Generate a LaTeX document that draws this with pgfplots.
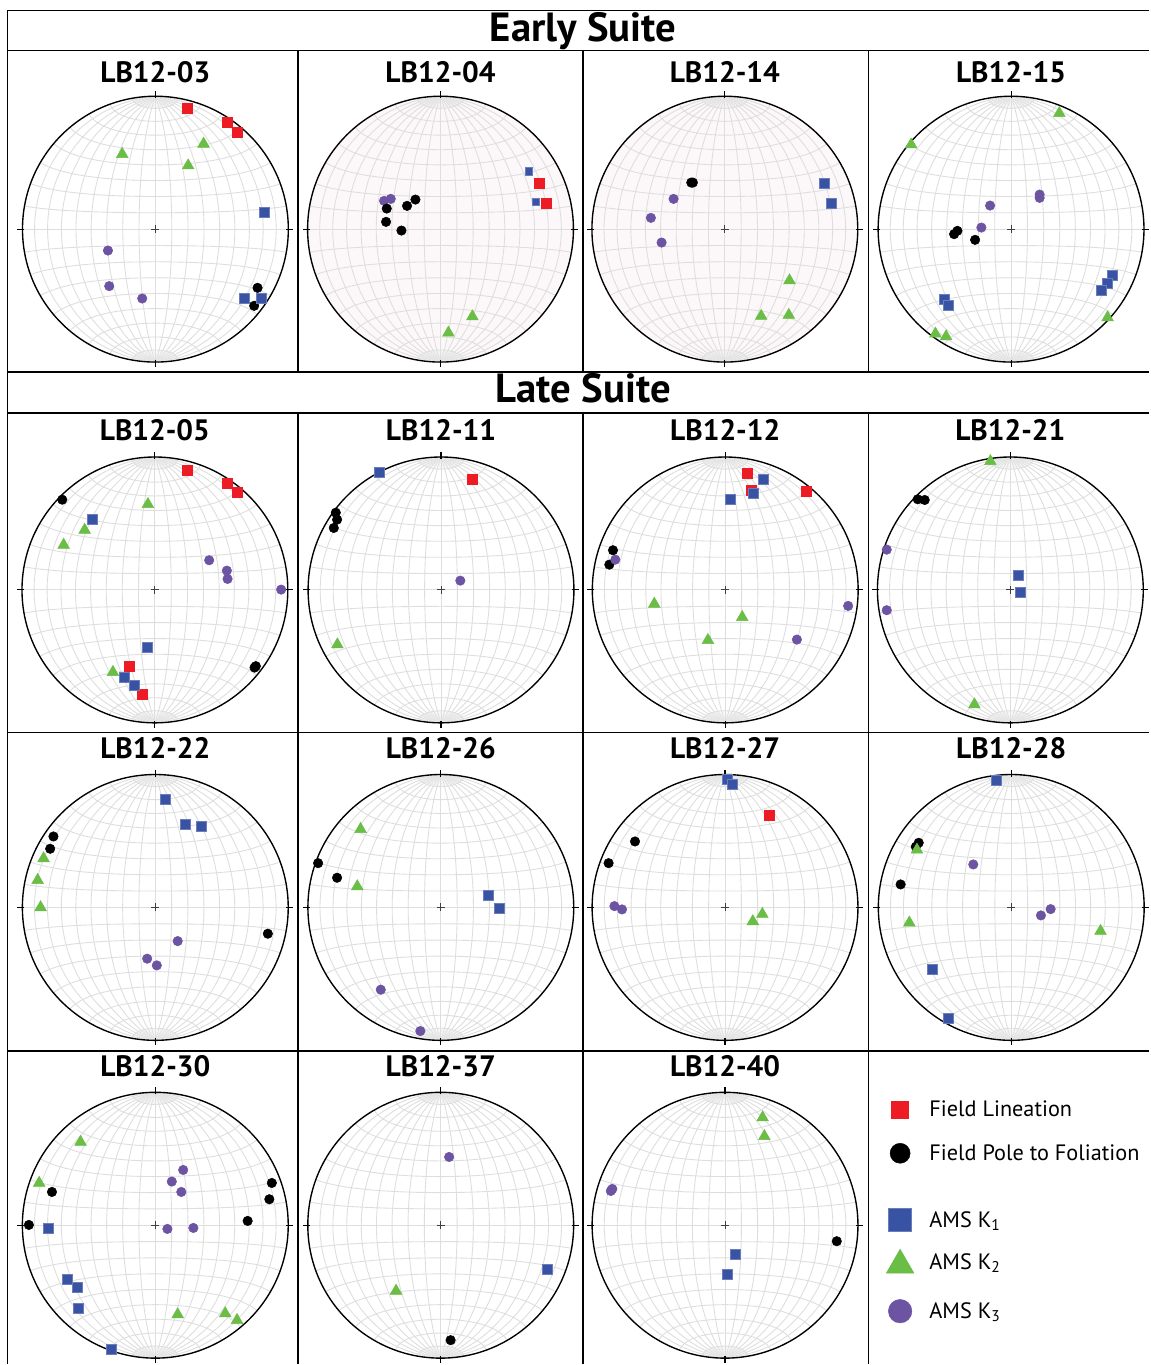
\documentclass[border=0pt]{standalone}
\usepackage{fontspec}
\setmainfont{PT Sans}
\usepackage{pgfplots}
\pgfplotsset{compat=1.18}
\definecolor{cRed}{RGB}{237,28,36}
\definecolor{cBlue}{RGB}{57,83,164}
\definecolor{cGreen}{RGB}{106,189,69}
\definecolor{cPurple}{RGB}{109,84,163}
\definecolor{netgray}{RGB}{222,222,222}
\definecolor{pinkfill}{RGB}{252,248,249}
\newsavebox\netbox
\pgfplotsset{
  stereo/.style={anchor=center, x=0.4pt, y=0.4pt, xmin=-140, xmax=140, ymin=-140, ymax=140, hide axis, clip=false},
  pol/.style={only marks, mark=*, mark size=1.9pt, mark options={draw=black, fill=black, line width=0.2pt}},
  lin/.style={only marks, mark=square*, mark size=2pt, mark options={draw=cRed, fill=cRed, line width=0.2pt}},
  kone/.style={only marks, mark=square*, mark size=2pt, mark options={draw=cBlue!75!white, fill=cBlue, line width=0.25pt}},
  ktwo/.style={only marks, mark=triangle*, mark size=2.7pt, mark options={draw=cGreen, fill=cGreen, line width=0.2pt}},
  kthree/.style={only marks, mark=*, mark size=1.9pt, mark options={draw=cPurple, fill=cPurple, line width=0.2pt}},
}
\newcommand{\net}[3][white]{%
  \fill[#1] (#2,#3) circle[radius=133];
  \node[inner sep=0pt,outer sep=0pt,anchor=center] at (#2,#3) {\usebox\netbox};
  \draw[line width=0.55pt] (#2,#3) circle[radius=133];
  \draw[line width=0.45pt] (#2,#3-131)--(#2,#3-138) (#2,#3+131)--(#2,#3+138) (#2-131,#3)--(#2-138,#3) (#2+131,#3)--(#2+138,#3);
}
\newcommand{\cross}[2]{\draw[line width=0.35pt, black!75] (#1-4,#2)--(#1+4,#2) (#1,#2-4)--(#1,#2+4);}
\newcommand{\ptitle}[3]{\node[anchor=base, inner sep=0pt, font=\fontsize{11.8}{12}\selectfont\bfseries] at (#1,#2) {#3};}
\begin{document}
\sbox\netbox{%
\begin{tikzpicture}[x=53.2pt,y=53.2pt]
\useasboundingbox (-1,-1) rectangle (1,1);
\begin{scope}[draw=netgray, line width=0.35pt]
\foreach \d in {10,20,...,80}{
  \draw plot[domain=0:180, samples=37, smooth] ({sin(\x)*cos(\d)/sqrt(1+sin(\x)*sin(\d))},{cos(\x)/sqrt(1+sin(\x)*sin(\d))});
  \draw plot[domain=0:180, samples=37, smooth] ({-sin(\x)*cos(\d)/sqrt(1+sin(\x)*sin(\d))},{cos(\x)/sqrt(1+sin(\x)*sin(\d))});
  \draw plot[domain=0:180, samples=37, smooth] ({sin(\d)*cos(\x)/sqrt(1+sin(\d)*sin(\x))},{cos(\d)/sqrt(1+sin(\d)*sin(\x))});
  \draw plot[domain=0:180, samples=37, smooth] ({sin(\d)*cos(\x)/sqrt(1+sin(\d)*sin(\x))},{-cos(\d)/sqrt(1+sin(\d)*sin(\x))});
}
\begin{scope}[line width=0.12pt, draw=netgray!70]
\foreach \d in {4,8,14,18,24,28,34,38,44,48,54,58,64,68,74,78,84,88}{
  \draw plot[domain=1.5:10, samples=3] ({sin(\x)*cos(\d)/sqrt(1+sin(\x)*sin(\d))},{cos(\x)/sqrt(1+sin(\x)*sin(\d))});
  \draw plot[domain=1.5:10, samples=3] ({-sin(\x)*cos(\d)/sqrt(1+sin(\x)*sin(\d))},{cos(\x)/sqrt(1+sin(\x)*sin(\d))});
  \draw plot[domain=170:178.5, samples=3] ({sin(\x)*cos(\d)/sqrt(1+sin(\x)*sin(\d))},{cos(\x)/sqrt(1+sin(\x)*sin(\d))});
  \draw plot[domain=170:178.5, samples=3] ({-sin(\x)*cos(\d)/sqrt(1+sin(\x)*sin(\d))},{cos(\x)/sqrt(1+sin(\x)*sin(\d))});
}
\end{scope}
\draw (0,-1)--(0,1) (-1,0)--(1,0);
\end{scope}
\end{tikzpicture}}%
\begin{tikzpicture}
\begin{scope}[x=0.4pt,y=-0.4pt]
\path (0,0) rectangle (1150,1365);
% frame lines
\begin{scope}[line width=0.7pt]
\draw (1150,10.5)--(7.5,10.5)--(7.5,1365);
\draw (7.5,50.5)--(1150,50.5);
\draw (7.5,372)--(1150,372);
\draw (7.5,413)--(1150,413);
\draw (7.5,733)--(1150,733);
\draw (7.5,1051.5)--(1150,1051.5);
\foreach \vx in {298.5,583,869}{
  \draw (\vx,50.5)--(\vx,372);
  \draw (\vx,413)--(\vx,1365);
}
\end{scope}
% section titles
\node[anchor=base, inner sep=0pt, font=\fontsize{16.3}{17}\selectfont\bfseries] at (583.5,42) {Early Suite};
\node[anchor=base, inner sep=0pt, font=\fontsize{16.3}{17}\selectfont\bfseries] at (583.5,403) {Late Suite};
% nets
\net{155.5}{229.3}\cross{155.5}{229.3}
\net[pinkfill]{440.8}{229.3}
\net[pinkfill]{725.3}{229.3}\cross{725.3}{229.3}
\net{1011.7}{229.3}\cross{1011.7}{229.3}
\net{155}{590.3}\cross{155}{590.3}
\net{441.3}{590.3}\cross{441.3}{590.3}
\net{725.7}{590.3}\cross{725.7}{590.3}
\net{1011}{590.3}\cross{1011}{590.3}
\net{155.4}{908}\cross{155.4}{908}
\net{441.1}{908}\cross{441.1}{908}
\net{725.5}{908}\cross{725.5}{908}
\net{1011.9}{908}\cross{1011.9}{908}
\net{155.4}{1226}\cross{155.4}{1226}
\net{441}{1226}\cross{441}{1226}
\net{725.5}{1226}\cross{725.5}{1226}
% panel titles
\ptitle{155.5}{83}{LB12-03}
\ptitle{440.8}{83}{LB12-04}
\ptitle{725.3}{83}{LB12-14}
\ptitle{1011.7}{83}{LB12-15}
\ptitle{155}{441}{LB12-05}
\ptitle{441.3}{441}{LB12-11}
\ptitle{725.7}{441}{LB12-12}
\ptitle{1011}{441}{LB12-21}
\ptitle{155.4}{759}{LB12-22}
\ptitle{441.1}{759}{LB12-26}
\ptitle{725.5}{759}{LB12-27}
\ptitle{1011.9}{759}{LB12-28}
\ptitle{155.4}{1077}{LB12-30}
\ptitle{441}{1077}{LB12-37}
\ptitle{725.5}{1077}{LB12-40}
% legend text
\begin{scope}[every node/.style={anchor=base west, inner sep=0pt, font=\fontsize{8.9}{10}\selectfont}]
\node at (929.5,1117.7) {Field Lineation};
\node at (929.5,1161.7) {Field Pole to Foliation};
\node at (929.5,1228.3) {AMS K\textsubscript{1}};
\node at (929.5,1270) {AMS K\textsubscript{2}};
\node at (929.5,1319.3) {AMS K\textsubscript{3}};
\end{scope}
% anchor coordinates
\coordinate (p1) at (155.5,229.3);
\coordinate (p2) at (440.8,229.3);
\coordinate (p3) at (725.3,229.3);
\coordinate (p4) at (1011.7,229.3);
\coordinate (p5) at (155,590.3);
\coordinate (p6) at (441.3,590.3);
\coordinate (p7) at (725.7,590.3);
\coordinate (p8) at (1011,590.3);
\coordinate (p9) at (155.4,908);
\coordinate (p10) at (441.1,908);
\coordinate (p11) at (725.5,908);
\coordinate (p12) at (1011.9,908);
\coordinate (p13) at (155.4,1226);
\coordinate (p14) at (441,1226);
\coordinate (p15) at (725.5,1226);
\coordinate (lg) at (900.7,1110.3);
\end{scope}
% LB12-03
\begin{axis}[stereo, at={(p1)}]
\addplot[pol] coordinates {(102.2,-58.7) (98.8,-76.7)};
\addplot[lin] coordinates {(32.2,120.6) (71.8,106.6) (81.5,97)};
\addplot[kone] coordinates {(108.8,17) (88.8,-69.4) (105.5,-69.4)};
\addplot[ktwo] coordinates {(-33.2,75) (48.2,85.3) (32.8,63.6)};
\addplot[kthree] coordinates {(-47.5,-21.4) (-46.2,-57) (-13.2,-69.4)};
\end{axis}
% LB12-04
\begin{axis}[stereo, at={(p2)}]
\addplot[kthree] coordinates {(-56.5,28.3) (-49.8,30.3)};
\addplot[pol] coordinates {(-25.1,29.6) (-33.5,23.3) (-53.8,20.6) (-54.5,7.3) (-39.1,-1.4)};
\addplot[lin] coordinates {(99.2,46.3) (105.9,26)};
\addplot[kone, mark size=1.45pt] coordinates {(88.5,58) (95.2,27.6)};
\addplot[ktwo] coordinates {(31.9,-87.4) (7.9,-103.7)};
\end{axis}
% LB12-14
\begin{axis}[stereo, at={(p3)}]
\addplot[pol] coordinates {(-33.6,46.6) (-32,46.6)};
\addplot[kone] coordinates {(99.4,45.6) (106.4,26)};
\addplot[ktwo] coordinates {(64.7,-51.4) (36.4,-87) (64,-86)};
\addplot[kthree] coordinates {(-51.3,30.3) (-74,11.3) (-63.3,-13.4)};
\end{axis}
% LB12-15
\begin{axis}[stereo, at={(p4)}]
\addplot[pol] coordinates {(-57,-5) (-53.7,-1.7) (-36,-10.7)};
\addplot[kone] coordinates {(101.3,-46.4) (96,-54) (90.3,-61.4) (-66.4,-70.4) (-63,-76)};
\addplot[ktwo] coordinates {(48.3,116) (-100,84.6) (-75.7,-104.7) (-65,-107.4) (96.6,-88.4)};
\addplot[kthree] coordinates {(28.6,34.6) (28.6,31.3) (-21,23.6) (-29.7,1.6)};
\end{axis}
% LB12-05
\begin{axis}[stereo, at={(p5)}]
\addplot[pol] coordinates {(-92.7,90.3) (99.7,-77.7) (101,-76.3)};
\addplot[lin] coordinates {(32.7,120) (72,106.3) (82,97.7) (-25.7,-76.3) (-12.3,-104)};
\addplot[kone] coordinates {(-63,70.3) (-7.7,-57.7) (-30.3,-87.7) (-20.3,-95.3)};
\addplot[ktwo] coordinates {(-7,85.7) (-70.3,60) (-91.3,45) (-42,-82.3)};
\addplot[kthree] coordinates {(54.3,29.7) (72,19.3) (72.7,11) (126.3,0.3)};
\end{axis}
% LB12-11
\begin{axis}[stereo, at={(p6)}]
\addplot[pol] coordinates {(-105.3,77.3) (-104,70.3) (-107.3,62)};
\addplot[lin] coordinates {(31,110.7)};
\addplot[kone] coordinates {(-61.7,117.7)};
\addplot[ktwo] coordinates {(-103.7,-54.7)};
\addplot[kthree] coordinates {(19.3,9.3)};
\end{axis}
% LB12-12
\begin{axis}[stereo, at={(p7)}]
\addplot[pol] coordinates {(-112.3,39.7) (-116,25.3)};
\addplot[lin] coordinates {(21.7,117) (26,100) (81,98.3)};
\addplot[kone] coordinates {(38,111) (27.7,96.7) (4.7,91)};
\addplot[ktwo] coordinates {(-71,-14) (17,-27.3) (-17.3,-50.3)};
\addplot[kthree] coordinates {(-110,30.3) (123,-16) (71.7,-49.7)};
\end{axis}
% LB12-21
\begin{axis}[stereo, at={(p8)}]
\addplot[pol] coordinates {(-92.7,90.7) (-85.7,90)};
\addplot[kone] coordinates {(8.3,15) (10.3,-2.7)};
\addplot[ktwo] coordinates {(-20,128.7) (-36,-114.7)};
\addplot[kthree] coordinates {(-123.7,40.3) (-123.7,-20.3)};
\end{axis}
% LB12-22
\begin{axis}[stereo, at={(p9)}]
\addplot[pol] coordinates {(-101.9,71) (-105.2,58.7) (112.6,-26.3)};
\addplot[kone] coordinates {(9.9,107.7) (30.1,82.7) (45.8,81.3)};
\addplot[ktwo] coordinates {(-111.8,49) (-117.7,27.3) (-114.8,0)};
\addplot[kthree] coordinates {(22.4,-33.7) (-8.1,-51.3) (1.5,-58)};
\end{axis}
% LB12-26
\begin{axis}[stereo, at={(p10)}]
\addplot[pol] coordinates {(-122.8,44.3) (-103.8,29.7)};
\addplot[kone] coordinates {(47.7,11.7) (58.7,-0.7)};
\addplot[ktwo] coordinates {(-80.3,78.3) (-83.6,21)};
\addplot[kthree] coordinates {(-60.1,-82.3) (-20.5,-123.7)};
\end{axis}
% LB12-27
\begin{axis}[stereo, at={(p11)}]
\addplot[pol] coordinates {(-90.1,66) (-116.5,44.3)};
\addplot[lin] coordinates {(44.5,92.3)};
\addplot[kone] coordinates {(2.5,128.3) (7.2,123)};
\addplot[ktwo] coordinates {(37.3,-6.7) (27.8,-14)};
\addplot[kthree] coordinates {(-110.7,1.3) (-103.1,-2)};
\end{axis}
% LB12-28
\begin{axis}[stereo, at={(p12)}]
\addplot[pol] coordinates {(-92.6,64.7) (-95.5,60.7) (-110.7,23)};
\addplot[kone] coordinates {(-14.8,127.3) (-79.2,-62) (-62.9,-110.7)};
\addplot[ktwo] coordinates {(-94.4,57.7) (-102,-15.3) (89.3,-23.7)};
\addplot[kthree] coordinates {(-38,43) (29.7,-8) (39.4,-1.7)};
\end{axis}
% LB12-30
\begin{axis}[stereo, at={(p13)}]
\addplot[pol] coordinates {(-103.4,33.3) (-126.5,0.3) (116.6,42.3) (114.1,26) (92.4,4.3)};
\addplot[kone] coordinates {(-107.1,-3.3) (-88,-54) (-78.5,-62.3) (-77.4,-83.3) (-44.4,-124.3)};
\addplot[ktwo] coordinates {(-74.8,83.3) (-116.2,42.3) (22.4,-89.3) (70,-88.3) (81.8,-95)};
\addplot[kthree] coordinates {(27.9,55.3) (16.5,43.7) (26,33.3) (12.1,-3.7) (38.1,-2.7)};
\end{axis}
% LB12-37
\begin{axis}[stereo, at={(p14)}]
\addplot[pol] coordinates {(9.9,-115)};
\addplot[kone] coordinates {(107.1,-44)};
\addplot[ktwo] coordinates {(-44.7,-65.7)};
\addplot[kthree] coordinates {(8.4,68.3)};
\end{axis}
% LB12-40
\begin{axis}[stereo, at={(p15)}]
\addplot[pol] coordinates {(111.8,-16)};
\addplot[kone] coordinates {(9.8,-29.3) (2.2,-48.7)};
\addplot[ktwo] coordinates {(37.6,107.7) (39.4,89)};
\addplot[kthree] coordinates {(-114.3,34.3) (-112.8,36.3)};
\end{axis}
% legend markers
\begin{axis}[stereo, at={(lg)}]
\addplot[lin, mark size=3.4pt] coordinates {(0,0)};
\addplot[pol, mark size=4pt] coordinates {(0,-43.7)};
\addplot[kone, mark size=4.6pt] coordinates {(0,-110.7)};
\addplot[ktwo, mark size=6.4pt] coordinates {(0,-155.7)};
\addplot[kthree, mark size=4.7pt] coordinates {(0,-201.7)};
\end{axis}
\end{tikzpicture}
\end{document}
